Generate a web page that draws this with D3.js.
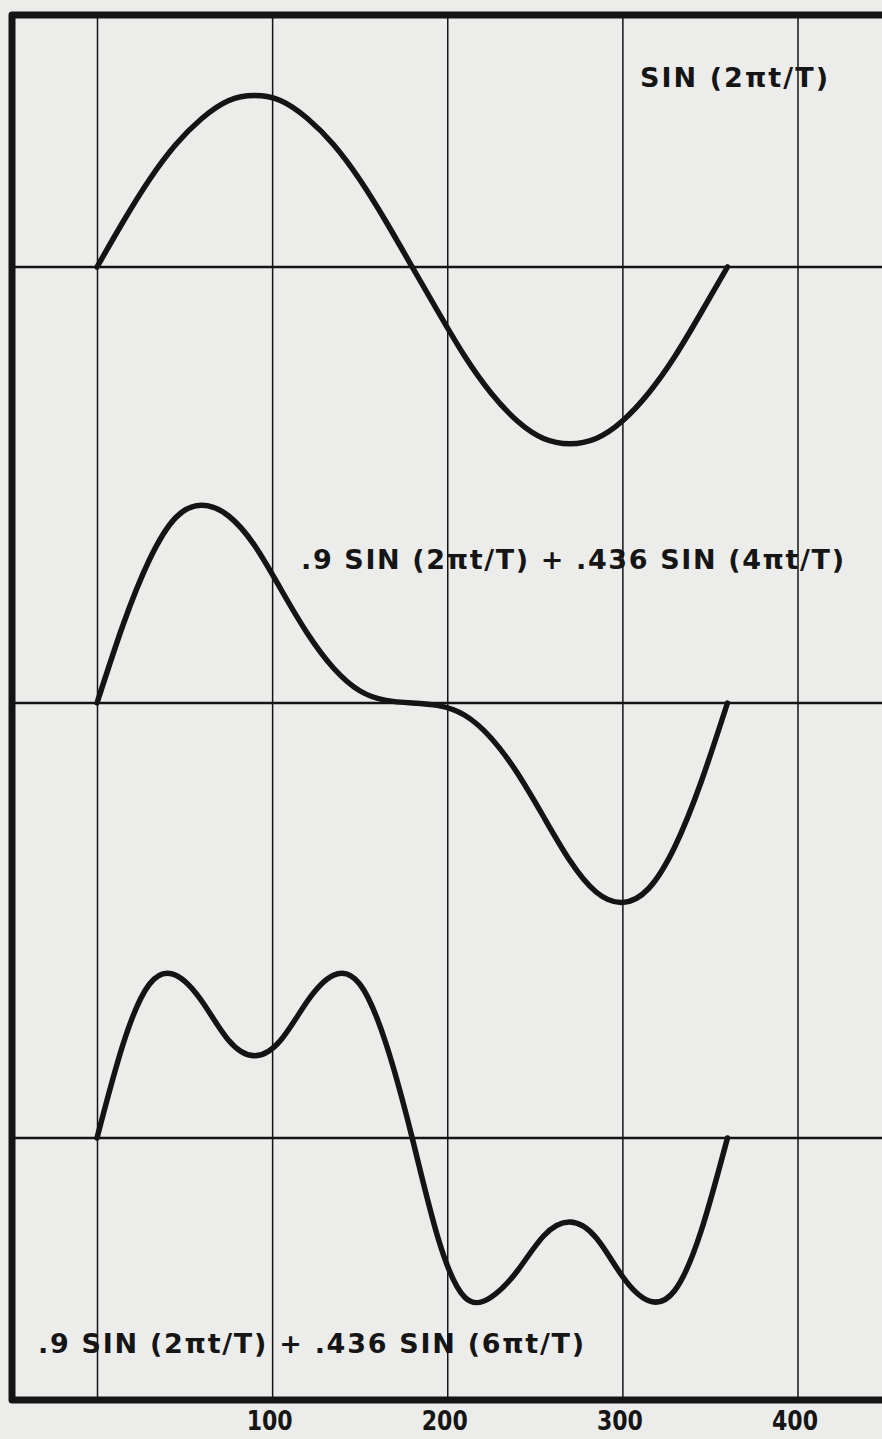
<!DOCTYPE html>
<html>
<head>
<meta charset="utf-8">
<script src="https://cdn.jsdelivr.net/npm/d3@7/dist/d3.min.js"></script>
<style>
  html, body { margin: 0; padding: 0; background: #ececea; }
  svg { display: block; }
  text { font-family: "DejaVu Sans", "Noto Sans", sans-serif; fill: #151515; }
</style>
</head>
<body>
<svg id="chart" width="882" height="1439"></svg>
<script>
// Sample times (t, in the same units as the axis) at which the curves were read
const tSamples = [0, 15, 30, 45, 60, 75, 90, 105, 120, 135, 150, 165, 180,
                  195, 210, 225, 240, 255, 270, 285, 300, 315, 330, 345, 360];

// SIN(2πt/T)
const wave1 = [0, 0.26, 0.50, 0.70, 0.85, 0.95, 0.98, 0.95, 0.85, 0.70, 0.50, 0.26, 0.0,
               -0.26, -0.51, -0.72, -0.88, -0.98, -1.01, -0.98, -0.88, -0.72, -0.51, -0.26, 0];

// .9 SIN(2πt/T) + .436 SIN(4πt/T)
const wave2 = [0, 0.45, 0.82, 1.06, 1.13, 1.07, 0.90, 0.65, 0.40, 0.20, 0.07, 0.015, 0.0,
               -0.015, -0.07, -0.20, -0.40, -0.65, -0.90, -1.08, -1.14, -1.06, -0.82, -0.45, 0];

// .9 SIN(2πt/T) + .436 SIN(6πt/T)
const wave3 = [0, 0.54, 0.88, 0.93, 0.78, 0.56, 0.47, 0.56, 0.78, 0.93, 0.88, 0.54, 0.0,
               -0.58, -0.91, -0.91, -0.76, -0.56, -0.48, -0.57, -0.79, -0.93, -0.87, -0.53, 0];

const waves = [wave1, wave2, wave3];
const waveLabels = ["SIN (2\u03C0t/T)",
                    ".9 SIN (2\u03C0t/T) + .436 SIN (4\u03C0t/T)",
                    ".9 SIN (2\u03C0t/T) + .436 SIN (6\u03C0t/T)"];
const gridValues = [0, 100, 200, 300, 400];
const tickLabels = ["", "100", "200", "300", "400"];

const svg = d3.select("#chart");
const W = 882, H = 1439;
const frame = { left: 12, top: 15, bottom: 1400, right: 882 };
const ink = "#141414";

// horizontal time scale
const x = d3.scaleLinear().domain([0, 400]).range([97, 797.5]);

// each trace has its own zero line and a shared amplitude
const panelZero = [267, 703, 1138];
const amp = 175;
const yScales = panelZero.map(z => d3.scaleLinear().domain([-1, 1]).range([z + amp, z - amp]));

// paper
svg.append("rect").attr("width", W).attr("height", H).attr("fill", "#ececea");

// vertical grid lines with the time labels below the frame
const axis = d3.axisBottom(x)
  .tickValues(gridValues)
  .tickSize(-(frame.bottom - frame.top))
  .tickSizeOuter(0)
  .tickPadding(11)
  .tickFormat((d, i) => tickLabels[i]);

const gAxis = svg.append("g")
  .attr("transform", `translate(0,${frame.bottom})`)
  .call(axis);
gAxis.select(".domain").remove();
gAxis.selectAll(".tick line").attr("stroke", ink).attr("stroke-width", 1.5);
gAxis.selectAll(".tick text")
  .attr("font-size", 27)
  .attr("font-family", "'DejaVu Sans', sans-serif")
  .attr("font-weight", "bold")
  .attr("fill", ink)
  .attr("dx", -3)
  .attr("textLength", 46)
  .attr("lengthAdjust", "spacingAndGlyphs");

// zero lines of the three traces
svg.append("g").selectAll("line")
  .data(panelZero)
  .join("line")
  .attr("x1", frame.left).attr("x2", frame.right)
  .attr("y1", d => d).attr("y2", d => d)
  .attr("stroke", ink).attr("stroke-width", 2.3);

// heavy frame: left, top and bottom edges
svg.append("path")
  .attr("d", `M${frame.right},${frame.top} L${frame.left},${frame.top} L${frame.left},${frame.bottom} L${frame.right},${frame.bottom}`)
  .attr("fill", "none")
  .attr("stroke", ink)
  .attr("stroke-width", 7)
  .attr("stroke-linejoin", "round");

// the traces
waves.forEach((vals, i) => {
  const line = d3.line()
    .x((d, j) => x(tSamples[j]))
    .y(d => yScales[i](d))
    .curve(d3.curveNatural);
  svg.append("path")
    .datum(vals)
    .attr("d", line)
    .attr("fill", "none")
    .attr("stroke", ink)
    .attr("stroke-width", 5.5)
    .attr("stroke-linecap", "round")
    .attr("stroke-linejoin", "round");
});

// trace captions
const captionPos = [
  { x: 640, y: 87, len: 188 },
  { x: 301, y: 569, len: 543 },
  { x: 38, y: 1353, len: 546 }
];
svg.append("g").selectAll("text")
  .data(waveLabels)
  .join("text")
  .attr("x", (d, i) => captionPos[i].x)
  .attr("y", (d, i) => captionPos[i].y)
  .attr("font-size", 27)
  .attr("font-weight", "bold")
  .attr("textLength", (d, i) => captionPos[i].len)
  .attr("lengthAdjust", "spacing")
  .text(d => d);
</script>
</body>
</html>
